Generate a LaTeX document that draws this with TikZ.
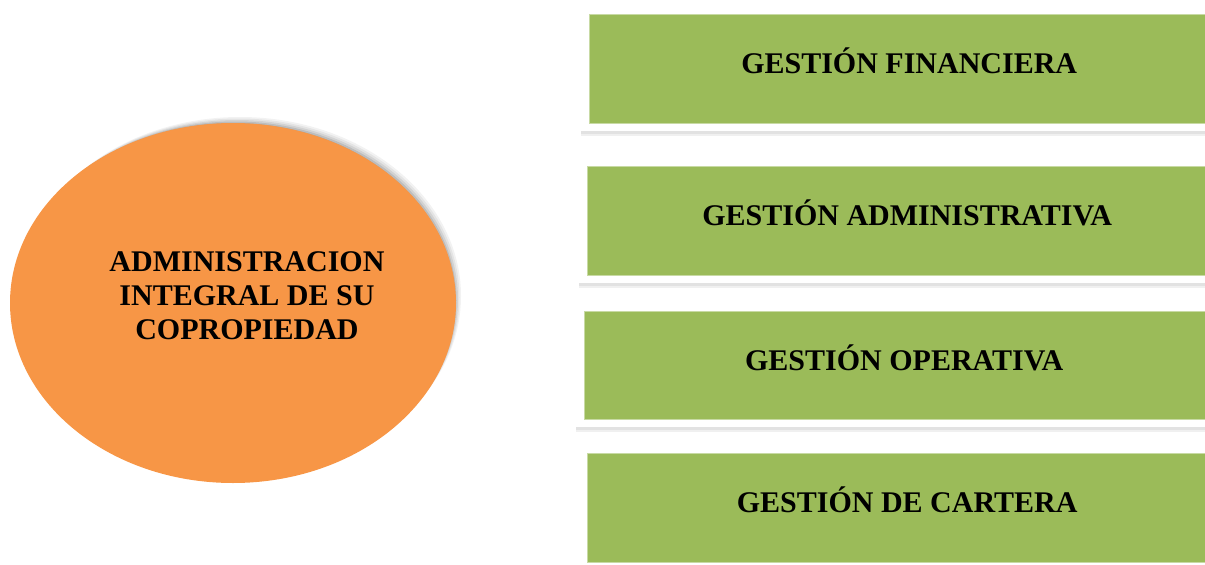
\documentclass[tikz,border=0pt]{standalone}
\usepackage{fontspec}
\setmainfont{Liberation Serif}
\usetikzlibrary{shapes.geometric,shadows}
\definecolor{coreorange}{HTML}{F79646}
\definecolor{boxgreen}{HTML}{9BBB59}
\tikzset{
  bigtext/.style={font=\bfseries\fontsize{30}{34}\selectfont, text=black},
  corenode/.style={ellipse, fill=coreorange, minimum width=446pt, minimum height=360pt, inner sep=0pt},
  gbox/.style={rectangle, fill=white, anchor=west, inner sep=0pt,
    minimum width=656pt, minimum height=125pt,
    bigtext, text height=20pt, text depth=10pt,
    drop shadow={shadow xshift=0pt, shadow yshift=-2.5pt, fill=black, opacity=0.06},
    drop shadow={shadow xshift=0pt, shadow yshift=-5pt, fill=black, opacity=0.06},
    path picture={\fill[boxgreen, draw=boxgreen!55!white, line width=0.8pt]
      ([xshift=8pt,yshift=-8pt]path picture bounding box.north west) rectangle
      ([xshift=-8pt,yshift=8pt]path picture bounding box.south east);}}
}
\begin{document}
\begin{tikzpicture}[x=1pt,y=-1pt]
\useasboundingbox (0,0) rectangle (1205,565);
% soft shadow of the ellipse (upper right)
\foreach \s/\o in {7/0.05,5.5/0.06,4/0.08,2.5/0.10,1/0.12}
  \fill[black, opacity=\o] ([xshift=\s pt,yshift=\s pt]233pt,-303pt) ellipse [x radius=221pt, y radius=179pt];
\node[corenode] (core) at (233,303) {};
\node[bigtext, align=center] (coretext) at (247,296) {ADMINISTRACION\\INTEGRAL DE SU\\COPROPIEDAD};
\node[gbox] (b1) at (581,68.5) {GESTIÓN FINANCIERA};
\node[gbox] (b2) at (579,220.5) {GESTIÓN ADMINISTRATIVA};
\node[gbox, minimum height=124pt] (b3) at (576,365) {GESTIÓN OPERATIVA};
\node[gbox] (b4) at (579,507.5) {GESTIÓN DE CARTERA};
\end{tikzpicture}
\end{document}
